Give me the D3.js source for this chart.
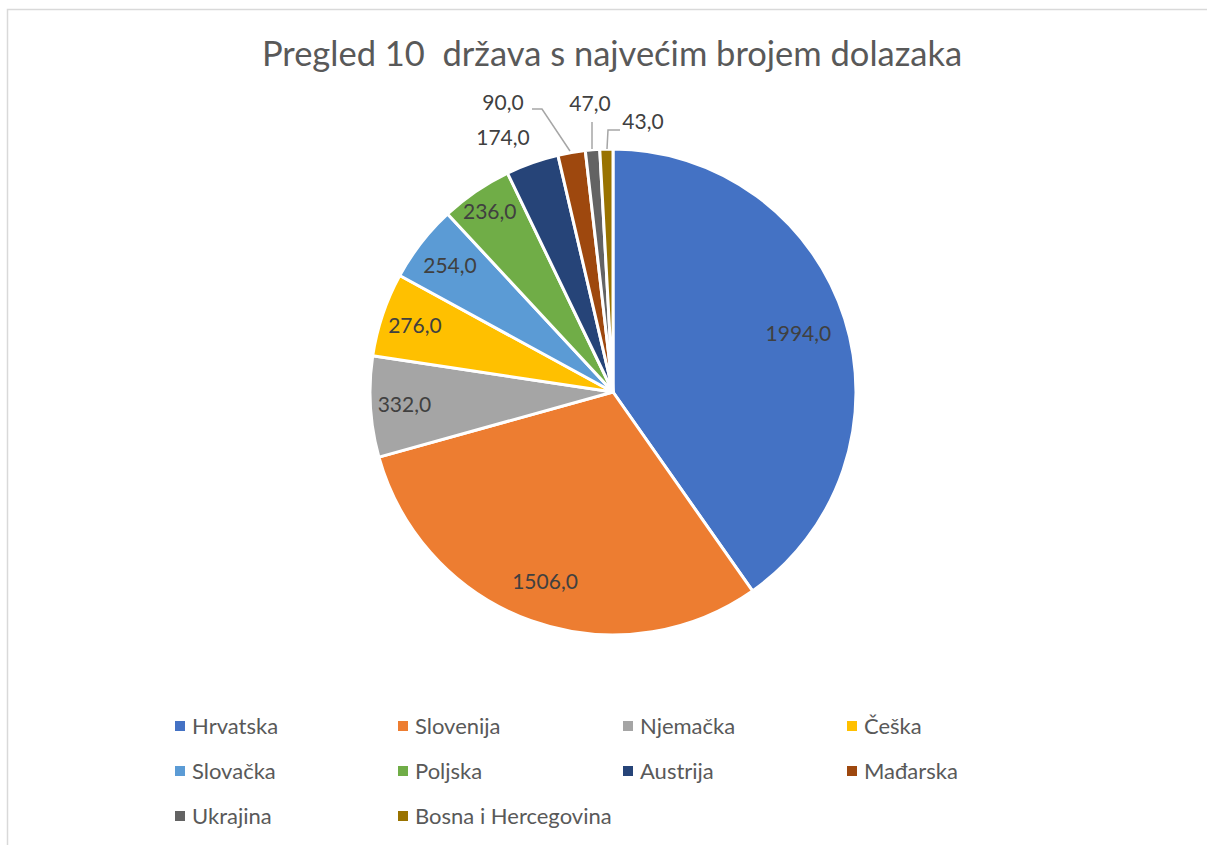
<!DOCTYPE html>
<html><head><meta charset="utf-8">
<script src="https://cdn.jsdelivr.net/npm/d3@7"></script>
<style>body{margin:0;background:#fff;}svg{display:block;}</style>
</head><body>
<svg id="c" width="1207" height="845"></svg>
<script>
const categories = ["Hrvatska","Slovenija","Njemačka","Češka","Slovačka","Poljska","Austrija","Mađarska","Ukrajina","Bosna i Hercegovina"];
const values = [1994,1506,332,276,254,236,174,90,47,43];
const colors = ["#4472C4","#ED7D31","#A5A5A5","#FFC000","#5B9BD5","#70AD47","#264478","#9E480E","#636363","#997300"];
const title = "Pregled 10  država s najvećim brojem dolazaka";

const svg = d3.select("#c");
const font = "Lato, 'Open Sans', sans-serif";
svg.append("rect").attr("x",7.5).attr("y",9.5).attr("width",1230).attr("height",900)
  .attr("fill","#fff").attr("stroke","#d9d9d9").attr("stroke-width",1.5);

svg.append("text").attr("x",612).attr("y",66).attr("text-anchor","middle")
  .attr("font-family",font).attr("font-size",34.5).attr("fill","#595959")
  .style("white-space","pre").text(title);

const cx=613, cy=392, R=243;
const data = categories.map((c,i)=>({c, v:values[i], col:colors[i]}));
const pie = d3.pie().value(d=>d.v).sort(null);
const arcs = pie(data);
const arc = d3.arc().innerRadius(0).outerRadius(R);
const g = svg.append("g").attr("transform",`translate(${cx},${cy})`);
g.selectAll("path").data(arcs).enter().append("path")
  .attr("d",arc).attr("fill",d=>d.data.col).attr("stroke","#fff").attr("stroke-width",3)
  .attr("stroke-linejoin","round");

const fmt = v => v.toFixed(1).replace(".",",");
const insideR = [0.8,0.83,0.86,0.86,0.85,0.9];
const lbl = svg.append("g").attr("font-family",font).attr("font-size",21).attr("fill","#404040");
arcs.forEach((a,i)=>{
  const m=(a.startAngle+a.endAngle)/2;
  if(i<insideR.length){
    const r=R*insideR[i];
    lbl.append("text").attr("x",cx+r*Math.sin(m)).attr("y",cy-r*Math.cos(m)).attr("dy","0.35em")
      .attr("text-anchor","middle").text(fmt(a.data.v));
  }
});
const outs = [
  {i:6, tx:503, ty:138, line:null},
  {i:7, tx:503, ty:103, line:[[532,109],[542,109],[570,151]]},
  {i:8, tx:590, ty:104, line:[[592,122],[592,149]]},
  {i:9, tx:643, ty:122, line:[[620,130],[608,130],[607,149]]}
];
outs.forEach(o=>{
  lbl.append("text").attr("x",o.tx).attr("y",o.ty).attr("dy","0.35em").attr("text-anchor","middle")
    .text(fmt(values[o.i]));
  if(o.line) svg.append("path").attr("d",d3.line()(o.line)).attr("fill","none")
    .attr("stroke","#a6a6a6").attr("stroke-width",1.5);
});

const colX=[175,398,623,847], rowY=[726,771,816];
const lg = svg.append("g").attr("font-family",font).attr("font-size",22).attr("fill","#595959");
data.forEach((d,i)=>{
  const x=colX[i%4], y=rowY[Math.floor(i/4)];
  lg.append("rect").attr("x",x).attr("y",y-5).attr("width",10).attr("height",10).attr("fill",d.col);
  lg.append("text").attr("x",x+17).attr("y",y).attr("dy","0.35em").text(d.c);
});
</script>
</body></html>
